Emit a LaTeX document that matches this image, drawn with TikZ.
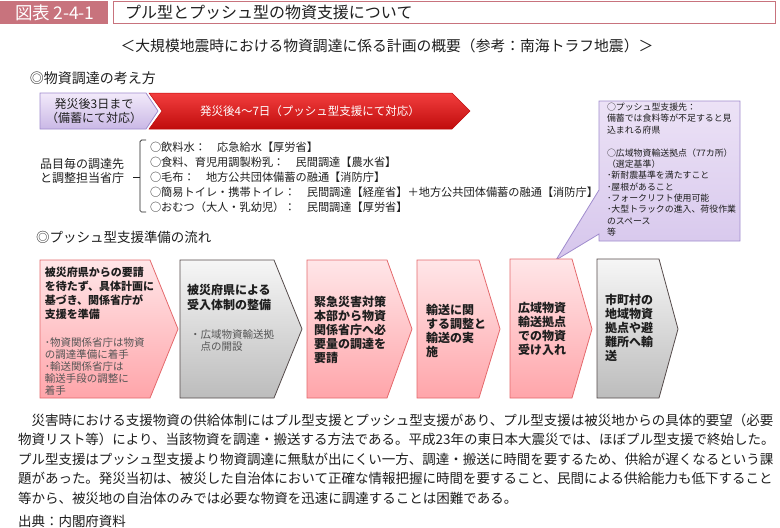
\documentclass[tikz,border=0pt]{standalone}
\usepackage{fontspec}
\setmainfont{Noto Sans CJK JP}
\newcommand\fsz[2]{\fontsize{#1}{#2}\selectfont}
\definecolor{titlepink}{RGB}{200,115,125}
\definecolor{txt}{RGB}{30,30,30}
\definecolor{subgray}{RGB}{85,85,85}
\definecolor{purtop}{RGB}{242,234,250}
\definecolor{purbot}{RGB}{202,184,230}
\definecolor{puredge}{RGB}{160,140,205}
\definecolor{redtop}{RGB}{242,62,62}
\definecolor{redbot}{RGB}{192,12,12}
\definecolor{pinktop}{RGB}{255,230,232}
\definecolor{pinkbot}{RGB}{255,165,170}
\definecolor{pinkedge}{RGB}{228,105,108}
\definecolor{graytop}{RGB}{246,246,246}
\definecolor{graybot}{RGB}{188,188,188}
\definecolor{grayedge}{RGB}{85,75,75}
\definecolor{caltop}{RGB}{236,226,246}
\definecolor{calbot}{RGB}{214,198,236}
\begin{document}
\begin{tikzpicture}[x=1pt,y=-1pt,
  every node/.style={inner sep=0pt,outer sep=0pt,text=txt},
  pinkbox/.style={draw=pinkedge,line width=0.8pt,top color=pinktop,bottom color=pinkbot},
  graybox/.style={draw=grayedge,line width=0.8pt,top color=graytop,bottom color=graybot},
  boxtxt/.style={anchor=west,align=left,font=\fsz{12}{14}\bfseries},
  subtxt/.style={anchor=west,align=left,text=subgray,font=\fsz{10.5}{12}},
  bodytxt/.style={anchor=west,font=\fsz{13.5}{16}}]
\useasboundingbox (0,0) rectangle (780,528);

% title bar
\fill[titlepink] (0,1) rectangle (108,24);
\draw[titlepink,line width=1.5pt,fill=white] (113.5,1.5) rectangle (775.5,23.5);
\node[text=white,font=\fsz{17.5}{19}] (tnum) at (55,12.5) {図表\,2-4-1};
\node[anchor=west,font=\fsz{16}{18}] (ttl) at (125,12.5) {プル型とプッシュ型の物資支援について};

\node[font=\fsz{14.8}{17}] (sub) at (387,46) {＜大規模地震時における物資調達に係る計画の概要（参考：南海トラフ地震）＞};

\node[anchor=west,font=\fsz{14}{16}] (h1) at (30,78) {◎物資調達の考え方};

% timeline arrows
\path[draw=puredge,line width=0.7pt,top color=purtop,bottom color=purbot]
  (40,93) -- (146,93) -- (158,111) -- (146,129) -- (40,129) -- cycle;
\path[draw=redbot,line width=0.5pt,top color=redtop,bottom color=redbot]
  (149,93) -- (452,93) -- (470,111) -- (452,129) -- (149,129) -- (162,111) -- cycle;
\node[align=center,font=\fsz{12}{14}] (p3) at (94,111) {発災後3日まで\\（備蓄にて対応）};
\node[text=white,font=\fsz{11.5}{14}] (p47) at (310,111) {発災後4～7日（プッシュ型支援にて対応）};

% procurement list
\node[anchor=west,align=left,font=\fsz{12}{14}] (item) at (40,170.5) {品目毎の調達先\\と調整担当省庁};
\draw[txt,line width=0.7pt,rounded corners=1.5pt] (146,140) -- (140,140) -- (140,212) -- (146,212);
\draw[txt,line width=0.7pt] (140,177) -- (133,177);
\node[anchor=west,align=left,font=\fsz{11.2}{15}] (list) at (150,177) {○飲料水：　応急給水【厚労省】\\
○食料、育児用調製粉乳：　民間調達【農水省】\\
○毛布：　地方公共団体備蓄の融通【消防庁】\\
○簡易トイレ・携帯トイレ：　民間調達【経産省】＋地方公共団体備蓄の融通【消防庁】\\
○おむつ（大人・乳幼児）：　民間調達【厚労省】};

% callout
\path[draw=puredge,line width=0.8pt,top color=caltop,bottom color=calbot]
  (599,101) -- (740,101) -- (740,241) -- (599,241) -- (599,234) -- (556,260) -- (599,190) -- cycle;
\node[anchor=west,align=left,font=\fsz{8.9}{11.36}] (cal) at (607,169.7) {○プッシュ型支援先：\\
備蓄では食料等が不足すると見\\
込まれる府県\\[11.36pt]
○広域物資輸送拠点（77カ所）\\
（選定基準）\\
･新耐震基準を満たすこと\\
･屋根があること\\
･フォークリフト使用可能\\
･大型トラックの進入、荷役作業\\
のスペース\\
等};

\node[anchor=west,font=\fsz{13.5}{16}] (h2) at (36,237) {◎プッシュ型支援準備の流れ};

% flow
\path[pinkbox] (40,260) -- (150,260) -- (178,329) -- (150,398) -- (40,398) -- cycle;
\path[graybox] (180,260) -- (274,260) -- (302,329) -- (274,398) -- (180,398) -- cycle;
\path[pinkbox] (307,260) -- (387,260) -- (412,329) -- (387,398) -- (307,398) -- cycle;
\path[pinkbox] (417,260) -- (479,260) -- (500,329) -- (479,398) -- (417,398) -- cycle;
\path[pinkbox] (510,259) -- (572,259) -- (592,329) -- (572,398) -- (510,398) -- cycle;
\path[graybox] (597,259) -- (659,259) -- (678,329) -- (659,398) -- (597,398) -- cycle;

\node[boxtxt,font=\fsz{11}{14}\bfseries] (f1) at (45,293) {被災府県からの要請\\を待たず、具体計画に\\基づき、関係省庁が\\支援を準備};
\node[subtxt] (f1s) at (45,366) {･物資関係省庁は物資\\の調達準備に着手\\･輸送関係省庁は\\輸送手段の調整に\\着手};
\node[boxtxt,font=\fsz{12}{15}\bfseries] (f2) at (187,297.5) {被災府県による\\受入体制の整備};
\node[subtxt] (f2s) at (190,341) {・広域物資輸送拠\\\hspace*{10.5pt}点の開設};
\node[boxtxt] (f3) at (314,330) {緊急災害対策\\本部から物資\\関係省庁へ必\\要量の調達を\\要請};
\node[boxtxt] (f4) at (426,331) {輸送に関\\する調整と\\輸送の実\\施};
\node[boxtxt] (f5) at (518,329) {広域物資\\輸送拠点\\での物資\\受け入れ};
\node[boxtxt] (f6) at (605,328) {市町村の\\地域物資\\拠点や避\\難所へ輸\\送};

% body text
\node[bodytxt] (b1) at (18,420) {　災害時における支援物資の供給体制にはプル型支援とプッシュ型支援があり、プル型支援は被災地からの具体的要望（必要};
\node[bodytxt] (b2) at (18,439.5) {物資リスト等）により、当該物資を調達・搬送する方法である。平成23年の東日本大震災では、ほぼプル型支援で終始した。};
\node[bodytxt] (b3) at (18,459) {プル型支援はプッシュ型支援より物資調達に無駄が出にくい一方、調達・搬送に時間を要するため、供給が遅くなるという課};
\node[bodytxt] (b4) at (18,478.5) {題があった。発災当初は、被災した自治体において正確な情報把握に時間を要すること、民間による供給能力も低下すること};
\node[bodytxt] (b5) at (18,498) {等から、被災地の自治体のみでは必要な物資を迅速に調達することは困難である。};
\node[bodytxt] (src) at (18,521) {出典：内閣府資料};
\end{tikzpicture}
\end{document}
